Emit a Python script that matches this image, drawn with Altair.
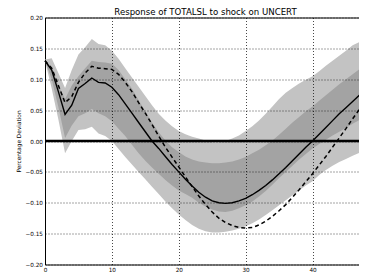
import altair as alt
import pandas as pd

title_text = "Response of TOTALSL to shock on UNCERT"
y_title = "Percentage Deviation"

horizon = list(range(49))

median = [0.130, 0.115, 0.080, 0.043, 0.058, 0.085, 0.093, 0.102, 0.095, 0.094, 0.087,
          0.075, 0.060, 0.045, 0.030, 0.015, 0.0, -0.012, -0.025, -0.038, -0.050,
          -0.062, -0.073, -0.083, -0.091, -0.097, -0.100, -0.101, -0.100, -0.097, -0.093,
          -0.087, -0.080, -0.072, -0.063, -0.053, -0.043, -0.032, -0.021, -0.010, 0.0,
          0.011, 0.022, 0.033, 0.044, 0.054, 0.064, 0.074, 0.084]

dashed = [0.130, 0.118, 0.090, 0.062, 0.072, 0.095, 0.110, 0.121, 0.118, 0.117, 0.116,
          0.108, 0.095, 0.080, 0.062, 0.045, 0.027, 0.008, -0.010, -0.026, -0.042,
          -0.058, -0.074, -0.089, -0.103, -0.115, -0.125, -0.132, -0.137, -0.140, -0.141,
          -0.140, -0.136, -0.130, -0.122, -0.113, -0.103, -0.091, -0.079, -0.066, -0.053,
          -0.039, -0.025, -0.010, 0.005, 0.020, 0.036, 0.051, 0.066]

outer_hi = [0.132, 0.134, 0.110, 0.086, 0.115, 0.140, 0.152, 0.165, 0.157, 0.155, 0.146,
            0.133, 0.118, 0.103, 0.088, 0.073, 0.058, 0.044, 0.033, 0.024, 0.016,
            0.011, 0.007, 0.004, 0.001, -0.002, -0.002, 0.0, 0.004, 0.009, 0.016,
            0.024, 0.033, 0.044, 0.056, 0.068, 0.078, 0.086, 0.093, 0.099, 0.105,
            0.113, 0.122, 0.130, 0.138, 0.146, 0.155, 0.160, 0.163]

inner_hi = [0.130, 0.120, 0.090, 0.068, 0.090, 0.105, 0.118, 0.130, 0.128, 0.127, 0.125,
            0.115, 0.100, 0.085, 0.066, 0.048, 0.030, 0.014, 0.001, -0.010, -0.018,
            -0.025, -0.030, -0.033, -0.035, -0.036, -0.036, -0.035, -0.033, -0.030, -0.026,
            -0.020, -0.014, -0.007, 0.001, 0.010, 0.020, 0.030, 0.039, 0.048, 0.056,
            0.065, 0.074, 0.083, 0.092, 0.100, 0.108, 0.116, 0.124]

inner_lo = [0.130, 0.100, 0.055, 0.005, 0.025, 0.040, 0.045, 0.052, 0.045, 0.040, 0.032,
            0.020, 0.008, -0.006, -0.020, -0.032, -0.043, -0.053, -0.063, -0.072, -0.080,
            -0.086, -0.092, -0.100, -0.106, -0.111, -0.114, -0.115, -0.113, -0.109, -0.104,
            -0.098, -0.090, -0.081, -0.071, -0.060, -0.050, -0.040, -0.030, -0.021, -0.012,
            -0.005, 0.002, 0.009, 0.015, 0.021, 0.028, 0.034, 0.040]

outer_lo = [0.130, 0.085, 0.035, -0.020, 0.000, 0.018, 0.019, 0.023, 0.012, 0.008, 0.000,
            -0.013, -0.026, -0.038, -0.050, -0.062, -0.074, -0.086, -0.098, -0.109, -0.119,
            -0.128, -0.136, -0.142, -0.146, -0.148, -0.148, -0.147, -0.145, -0.142, -0.138,
            -0.133, -0.127, -0.120, -0.112, -0.104, -0.096, -0.088, -0.080, -0.072, -0.065,
            -0.055, -0.047, -0.040, -0.034, -0.029, -0.024, -0.019, -0.015]

x_ticks = [0, 10, 20, 30, 40]
y_ticks = [-0.20, -0.15, -0.10, -0.05, 0.0, 0.05, 0.10, 0.15, 0.20]

df = pd.DataFrame({
    "t": horizon, "median": median, "dashed": dashed,
    "outer_hi": outer_hi, "outer_lo": outer_lo,
    "inner_hi": inner_hi, "inner_lo": inner_lo,
})

W, H = 321, 247
FONT = "DejaVu Sans"

xscale = alt.Scale(domain=[0, 48], nice=False, zero=False)
yscale = alt.Scale(domain=[-0.2, 0.2], nice=False)

xaxis = alt.Axis(values=x_ticks, grid=True, gridColor="black", gridDash=[1, 2],
                 gridWidth=0.8, gridOpacity=0.9, ticks=False, domain=False,
                 labelFont=FONT, labelFontSize=5.7, labelColor="black",
                 labelPadding=1.5, labelFlush=False, labelOverlap=False,
                 title=None, zindex=1)
yaxis = alt.Axis(values=y_ticks, format=".2f", grid=True, gridColor="black",
                 gridDash=[1, 2], gridWidth=0.8, gridOpacity=0.9, ticks=False,
                 domain=False, labelFont=FONT, labelFontSize=5.7, labelColor="black",
                 labelPadding=2.5, labelFlush=False, labelOverlap=False,
                 title=y_title, titleFont=FONT, titleFontSize=5.8,
                 titleFontWeight="normal", titleColor="black", titleAngle=270,
                 titleX=-24.5, titleY=H / 2, titleAlign="center",
                 titleBaseline="alphabetic", zindex=1)


def X(field):
    return alt.X(field, scale=xscale, axis=xaxis)


def Y(field):
    return alt.Y(field, scale=yscale, axis=yaxis)


base = alt.Chart(df)

outer = base.mark_area(color="#c3c3c3").encode(
    x=X("t:Q"), y=Y("outer_lo:Q"), y2="outer_hi:Q"
)
inner = base.mark_area(color="#a3a3a3").encode(
    x=X("t:Q"), y=Y("inner_lo:Q"), y2="inner_hi:Q"
)
zero = alt.Chart(pd.DataFrame({"z": [0.0]})).mark_rule(
    color="black", strokeWidth=2.5
).encode(y=Y("z:Q"))
solid_line = base.mark_line(color="black", strokeWidth=1.4).encode(
    x=X("t:Q"), y=Y("median:Q")
)
dashed_line = base.mark_line(color="black", strokeWidth=1.5, strokeDash=[4, 3]).encode(
    x=X("t:Q"), y=Y("dashed:Q")
)
title = alt.Chart(pd.DataFrame({"label": [title_text]})).mark_text(
    font=FONT, fontSize=8.6, color="black", align="center", baseline="alphabetic"
).encode(text="label:N", x=alt.value(W / 2), y=alt.value(-2.2))

chart = alt.layer(outer, inner, zero, solid_line, dashed_line, title).properties(
    width=W, height=H,
    autosize=alt.AutoSizeParams(type="none"),
    padding={"left": 37, "top": 9.5, "right": -7, "bottom": 7.5},
).configure_view(stroke="black", strokeWidth=1)

chart.save("out.html", embed_options={"renderer": "svg", "actions": False})
